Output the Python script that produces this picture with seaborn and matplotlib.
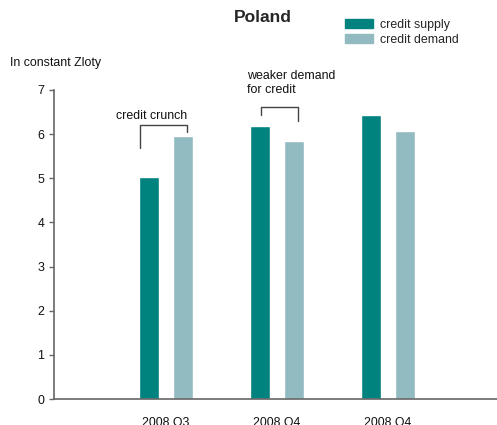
import matplotlib
matplotlib.use("Agg")
import matplotlib.pyplot as plt
import matplotlib.patches as mpatches
import seaborn as sns
import pandas as pd

# Quarter keys and their displayed labels
periods = ["p1", "p2", "p3"]
period_labels = ["2008 Q3", "2008 Q4", "2008 Q4"]

# Credit volumes (in constant Zloty)
credit_supply = [5.03, 6.19, 6.44]
credit_demand = [5.96, 5.85, 6.08]

series_names = ["credit supply", "credit demand"]
colors = ["#00827F", "#92BAC1"]

df = pd.DataFrame({
    "period": periods * 2,
    "series": [series_names[0]] * 3 + [series_names[1]] * 3,
    "value": credit_supply + credit_demand,
})

sns.set_style("white")
plt.rcParams["font.family"] = ["Liberation Sans", "DejaVu Sans"]

fs = 8.9
fig = plt.figure(figsize=(4.97, 4.25), dpi=100)
ax = fig.add_axes([54 / 497, 1 - 399 / 425, 444 / 497, 309 / 425])

sns.barplot(data=df, x="period", y="value", hue="series", order=periods,
            hue_order=series_names, palette=colors, width=0.61, gap=0.41,
            saturation=1, ax=ax, legend=False)

ax.set_xlim(-1.01, 2.99)
ax.set_ylim(0, 7)
ax.set_yticks(range(0, 8))
ax.set_xticks(range(len(periods)))
ax.set_xticklabels(period_labels)
ax.set_xlabel("")
ax.set_ylabel("")

spine_color = "#666666"
for side in ["top", "right"]:
    ax.spines[side].set_visible(False)
for side in ["left", "bottom"]:
    ax.spines[side].set_color(spine_color)
    ax.spines[side].set_linewidth(1.2)
ax.tick_params(axis="y", left=True, length=3.6, width=1, color=spine_color,
               pad=3.5, labelsize=fs, labelcolor="#111111")
ax.tick_params(axis="x", bottom=False, pad=9.5, labelsize=fs,
               labelcolor="#111111")

# Title, unit label and legend
fig.text(263 / 497, 1 - 17 / 425, "Poland", ha="center", va="center",
         fontsize=12.5, fontweight="bold")
fig.text(10 / 497, 1 - 63 / 425, "In constant Zloty", ha="left",
         va="center", fontsize=fs, color="#111111")

handles = [mpatches.Patch(color=c, label=n) for c, n in zip(colors, series_names)]
fig.legend(handles=handles, loc="upper left",
           bbox_to_anchor=(345 / 497, 1 - 19 / 425), frameon=False,
           fontsize=fs, handlelength=2.25, handleheight=0.72,
           handletextpad=0.55, labelspacing=0.25, borderpad=0,
           borderaxespad=0)

# Brackets with annotations
bracket_kw = dict(color="#444444", lw=1.0, clip_on=False)
ax.plot([-0.234, -0.234, 0.19, 0.19], [5.69, 6.21, 6.21, 6.05], **bracket_kw)
ax.text(-0.45, 6.42, "credit crunch", ha="left", va="center",
        fontsize=fs, color="#111111")
ax.plot([0.856, 0.856, 1.189, 1.189], [6.44, 6.62, 6.62, 6.30], **bracket_kw)
ax.text(0.73, 6.87, "weaker demand\nfor credit", ha="left", va="bottom",
        fontsize=fs, color="#111111", linespacing=1.2, clip_on=False)

fig.savefig("out.png", dpi=100)
